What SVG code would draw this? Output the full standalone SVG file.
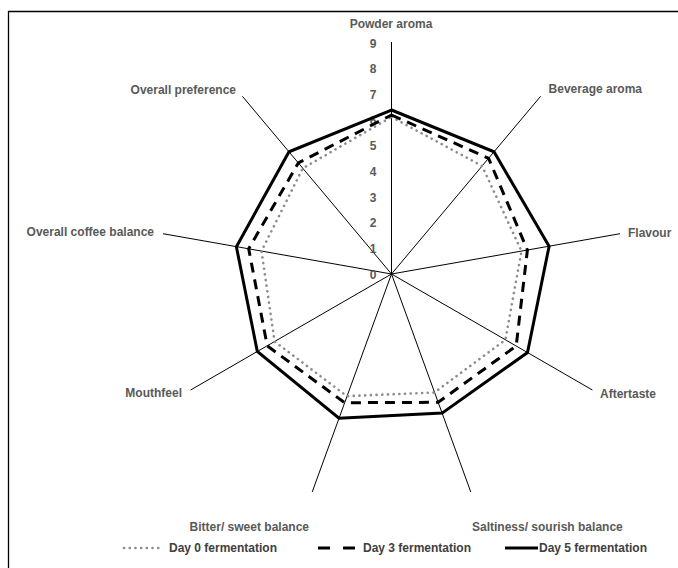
<svg xmlns="http://www.w3.org/2000/svg" width="678" height="568" viewBox="0 0 678 568">
<style>
.lbl{font-family:"Liberation Sans",Arial,sans-serif;font-weight:bold;font-size:12px;fill:#595959}
.tick{font-family:"Liberation Sans",Arial,sans-serif;font-weight:bold;font-size:12px;fill:#595959;text-anchor:middle}
.leg{font-family:"Liberation Sans",Arial,sans-serif;font-weight:bold;font-size:12px;fill:#404040}
.axis{stroke:#000;stroke-width:1;fill:none}
.d0{fill:none;stroke:#8c8c8c;stroke-width:2.6;stroke-dasharray:0.1 5.6;stroke-linecap:round;stroke-linejoin:round}
.d3{fill:none;stroke:#000;stroke-width:3;stroke-dasharray:10 7;stroke-linejoin:round}
.d5{fill:none;stroke:#000;stroke-width:3;stroke-linejoin:miter}
</style>
<rect width="678" height="568" fill="#fff"/>
<g id="frame"><path d="M8.5 568 V11.5 H678" fill="none" stroke="#000" stroke-width="1.3"/></g>
<g id="connectors">
<line class="axis" x1="391.5" y1="274" x2="391.5" y2="42"/>
<line class="axis" x1="391.5" y1="274" x2="540.6" y2="96.3"/>
<line class="axis" x1="391.5" y1="274" x2="620" y2="233.7"/>
<line class="axis" x1="391.5" y1="274" x2="592.4" y2="390"/>
<line class="axis" x1="391.5" y1="274" x2="470.8" y2="492"/>
<line class="axis" x1="391.5" y1="274" x2="312.2" y2="492"/>
<line class="axis" x1="391.5" y1="274" x2="190.6" y2="390"/>
<line class="axis" x1="391.5" y1="274" x2="163" y2="233.7"/>
<line class="axis" x1="391.5" y1="274" x2="242.4" y2="96.3"/>
</g>
<g id="ticks">
<text class="tick" x="373" y="47.5">9</text>
<text class="tick" x="373" y="73.2">8</text>
<text class="tick" x="373" y="98.9">7</text>
<text class="tick" x="373" y="124.6">6</text>
<text class="tick" x="373" y="150.3">5</text>
<text class="tick" x="373" y="176">4</text>
<text class="tick" x="373" y="201.7">3</text>
<text class="tick" x="373" y="227.4">2</text>
<text class="tick" x="373" y="253.1">1</text>
<text class="tick" x="373" y="278.8">0</text>
</g>
<g id="series-day0"><polygon class="d0" points="391.5,117 482.1,166 521.5,251.1 505.4,339.8 434.6,392.4 347,396.2 274.6,341.5 261.5,251.1 302.8,168.3"/></g>
<g id="series-day3"><polygon class="d3" points="391.5,115 488.6,158.3 527.4,250 516.2,346 438.2,402.3 344.6,402.7 267.2,345.8 248.7,248.8 298.3,162.9"/></g>
<g id="series-day5"><polygon class="d5" points="391.5,110 494,151.8 549.1,246.2 527.5,352.5 442.1,413.1 339,418.2 257.3,351.5 236.4,246.7 289,151.8"/></g>
<g id="node-powder-aroma"><text class="lbl" x="391" y="27.5" text-anchor="middle">Powder aroma</text></g>
<g id="node-beverage-aroma"><text class="lbl" x="642" y="92.5" text-anchor="end">Beverage aroma</text></g>
<g id="node-flavour"><text class="lbl" x="628" y="236.5">Flavour</text></g>
<g id="node-aftertaste"><text class="lbl" x="600" y="398">Aftertaste</text></g>
<g id="node-saltiness"><text class="lbl" x="472" y="531">Saltiness/ sourish balance</text></g>
<g id="node-bitter"><text class="lbl" x="309" y="531" text-anchor="end">Bitter/ sweet balance</text></g>
<g id="node-mouthfeel"><text class="lbl" x="182" y="397" text-anchor="end">Mouthfeel</text></g>
<g id="node-overall-coffee-balance"><text class="lbl" x="154" y="236" text-anchor="end">Overall coffee balance</text></g>
<g id="node-overall-preference"><text class="lbl" x="236" y="93.5" text-anchor="end">Overall preference</text></g>
<g id="legend">
<line class="d0" x1="124" y1="548" x2="159" y2="548"/>
<text class="leg" x="169" y="552">Day 0 fermentation</text>
<line x1="318" y1="548" x2="355" y2="548" stroke="#000" stroke-width="3" stroke-dasharray="12 13"/>
<text class="leg" x="363" y="552">Day 3 fermentation</text>
<line x1="505" y1="548" x2="538" y2="548" stroke="#000" stroke-width="3"/>
<text class="leg" x="539" y="552">Day 5 fermentation</text>
</g>
</svg>
